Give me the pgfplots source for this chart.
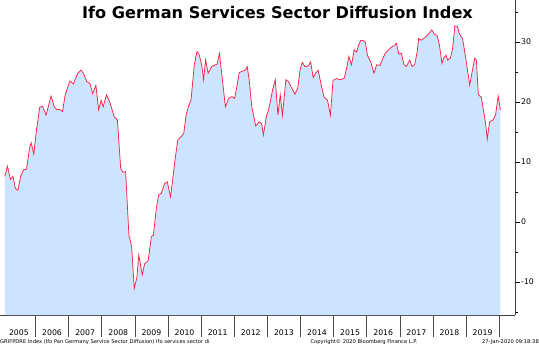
\documentclass[border=0pt]{standalone}
\usepackage{fontspec}
\setmainfont{DejaVu Sans}
\usepackage{pgfplots}
\pgfplotsset{compat=1.18}
\usepgfplotslibrary{fillbetween}
\usepackage{pgfplotstable}
\definecolor{fillc}{RGB}{204,228,255}
\definecolor{linec}{RGB}{250,35,65}
\pgfplotstableread{
t v
2005.072 7.6
2005.153 9.3
2005.242 7.1
2005.320 7.6
2005.392 5.6
2005.470 5.3
2005.550 7.6
2005.640 8.7
2005.730 8.8
2005.820 12.3
2005.870 13.2
2005.948 11.3
2006.029 15.3
2006.128 19.1
2006.217 19.3
2006.319 17.8
2006.469 21.0
2006.567 19.2
2006.648 18.7
2006.717 18.8
2006.816 18.4
2006.896 21.2
2007.037 23.5
2007.145 23.0
2007.276 24.8
2007.375 25.3
2007.444 24.8
2007.546 23.4
2007.644 23.1
2007.725 21.4
2007.824 22.8
2007.905 18.7
2007.982 20.3
2008.042 19.2
2008.144 21.2
2008.243 20.0
2008.371 17.6
2008.473 17.0
2008.572 8.9
2008.640 8.3
2008.721 8.4
2008.820 -2.2
2008.901 -4.0
2008.981 -11.1
2009.059 -9.3
2009.119 -5.5
2009.221 -8.8
2009.299 -6.9
2009.400 -6.5
2009.499 -2.4
2009.559 -2.2
2009.648 2.3
2009.717 4.5
2009.798 4.8
2009.897 6.4
2009.978 6.7
2010.076 4.2
2010.148 7.3
2010.217 10.6
2010.298 13.7
2010.396 14.2
2010.477 14.8
2010.546 17.8
2010.615 19.2
2010.695 20.3
2010.794 26.2
2010.875 28.4
2010.935 28.0
2011.016 26.2
2011.075 23.7
2011.135 27.0
2011.213 24.8
2011.315 25.9
2011.434 26.2
2011.482 26.3
2011.554 28.1
2011.632 24.2
2011.733 19.2
2011.832 20.6
2011.931 20.9
2012.012 20.6
2012.080 22.6
2012.152 24.9
2012.230 25.1
2012.332 25.3
2012.392 25.9
2012.451 23.7
2012.529 19.2
2012.649 16.0
2012.751 16.7
2012.828 16.4
2012.879 14.5
2012.978 17.8
2013.020 18.4
2013.089 20.0
2013.157 22.0
2013.238 23.7
2013.319 17.8
2013.388 21.2
2013.456 17.8
2013.558 23.7
2013.636 23.4
2013.738 22.3
2013.836 21.3
2013.917 22.3
2013.986 25.3
2014.055 26.6
2014.135 25.9
2014.234 26.0
2014.306 26.7
2014.384 24.1
2014.456 24.8
2014.533 25.3
2014.635 22.6
2014.713 20.8
2014.815 20.3
2014.904 17.8
2014.982 23.6
2015.084 23.9
2015.144 23.8
2015.221 23.7
2015.323 24.0
2015.392 25.6
2015.461 27.6
2015.541 26.2
2015.622 28.7
2015.691 28.3
2015.760 29.5
2015.820 30.3
2015.909 30.2
2015.960 29.9
2016.020 27.8
2016.119 26.7
2016.220 24.8
2016.298 26.2
2016.400 26.1
2016.490 27.3
2016.558 28.1
2016.657 28.7
2016.738 29.1
2016.837 29.4
2016.896 29.8
2016.968 28.0
2017.046 28.1
2017.127 26.2
2017.196 25.9
2017.297 27.0
2017.366 25.9
2017.447 26.2
2017.525 28.4
2017.567 30.6
2017.644 30.3
2017.746 30.7
2017.845 31.2
2017.964 32.0
2018.045 31.3
2018.123 31.1
2018.195 29.5
2018.272 26.4
2018.323 27.3
2018.392 27.8
2018.443 27.0
2018.524 27.3
2018.593 28.9
2018.661 32.7
2018.742 32.6
2018.793 31.4
2018.892 30.6
2018.990 27.3
2019.110 22.8
2019.191 25.3
2019.260 27.3
2019.310 27.0
2019.370 21.2
2019.460 20.8
2019.541 18.1
2019.589 16.4
2019.639 13.8
2019.708 16.7
2019.810 17.0
2019.888 17.8
2019.969 21.0
2020.037 18.7
}\datatab

\begin{document}
\begin{tikzpicture}[x=1bp,y=1bp]
\begin{axis}[
  at={(0,0)}, anchor=south west,
  scale only axis, width=515bp, height=315bp,
  xmin=2004.928, xmax=2020.477,
  ymin=-15.5, ymax=37,
  clip=false,
  axis x line=bottom, axis y line=right,
  axis line style={-, black!75, line width=0.6pt},
  tick align=outside,
  major tick length=5bp, minor tick length=2.5bp,
  xtick={2005.5,2006.5,...,2019.5},
  xticklabels={2005,2006,2007,2008,2009,2010,2011,2012,2013,2014,2015,2016,2017,2018,2019},
  xtick style={draw=none},
  xticklabel style={font=\fontsize{7.8}{9}\selectfont, yshift=-6bp},
  ytick={-10,0,10,20,30},
  yticklabels={-10,0,10,20,30},
  minor ytick={-15,-5,5,15,25,35},
  ytick style={black, line width=0.7pt},
  yticklabel style={font=\fontsize{7.8}{9}\selectfont, inner sep=1pt},
]
\addplot[draw=none, name path=A, forget plot] table[x=t,y=v] {\datatab};
\addplot[draw=none, name path=B, forget plot] coordinates {(2005.072,-15.5) (2020.037,-15.5)};
\addplot[fill=fillc, draw=none] fill between[of=A and B];
\addplot[linec, line width=0.75pt] table[x=t,y=v] {\datatab};
\pgfplotsinvokeforeach{2006,2007,...,2020}{
  \draw[black!70, line width=0.6pt] (axis cs:#1,-15.5) -- ++(0pt,-22bp);
}
\end{axis}
\node[font=\fontsize{16.2}{19}\bfseries\selectfont] at (277.5,303) {Ifo German Services Sector Diffusion Index};
\node[font=\fontsize{5.2}{6}\selectfont, anchor=west, inner sep=0pt] at (0,-27) {GRIFPDRE Index (Ifo Pan Germany Service Sector Diffusion) Ifo services sector di};
\node[font=\fontsize{5.2}{6}\selectfont, inner sep=0pt] at (364,-27) {Copyright© 2020 Bloomberg Finance L.P.};
\node[font=\fontsize{5.2}{6}\selectfont, anchor=east, inner sep=0pt] at (539,-27) {27-Jan-2020 09:18:38};
\pgfresetboundingbox
\path[use as bounding box] (0,-32) rectangle (539,315);
\end{tikzpicture}
\end{document}
